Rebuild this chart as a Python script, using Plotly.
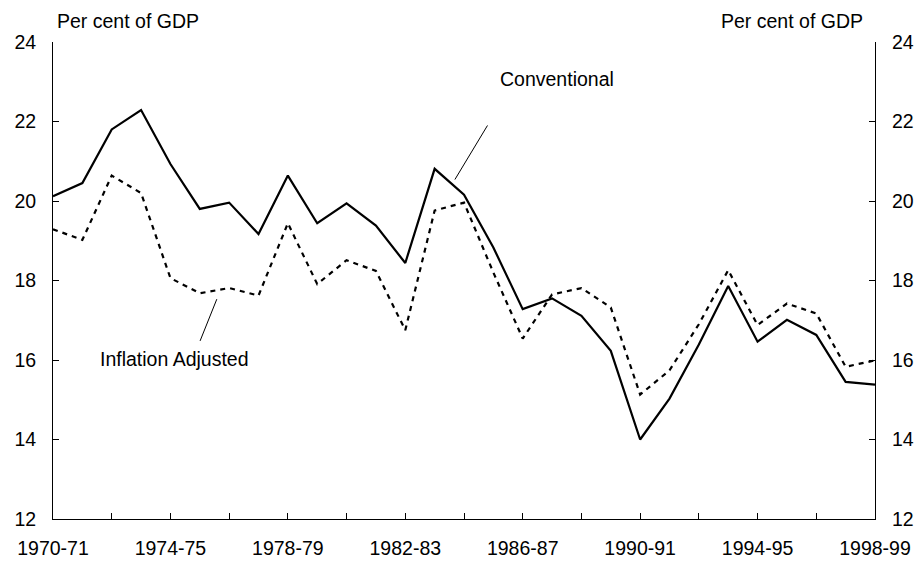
import plotly.graph_objects as go

categories = [f"{y}-{str(y + 1)[-2:]}" for y in range(1970, 1999)]

conventional = [20.12, 20.45, 21.80, 22.29, 20.93, 19.80, 19.96, 19.17, 20.64, 19.44,
                19.94, 19.38, 18.44, 20.81, 20.16, 18.83, 17.28, 17.55, 17.11, 16.23,
                14.00, 15.03, 16.39, 17.86, 16.46, 17.01, 16.63, 15.45, 15.38]

inflation_adjusted = [19.29, 19.02, 20.64, 20.20, 18.06, 17.68, 17.81, 17.62, 19.44, 17.91,
                      18.51, 18.24, 16.75, 19.76, 19.96, 18.20, 16.54, 17.65, 17.81, 17.32,
                      15.13, 15.74, 16.90, 18.26, 16.88, 17.42, 17.17, 15.83, 15.99]

y_ticks = [12, 14, 16, 18, 20, 22, 24]
tick_vals = categories[::2]
tick_text = [c if i % 2 == 0 else "" for i, c in enumerate(tick_vals)]

FONT = "Liberation Sans, Arial, sans-serif"
FS = 19.5

fig = go.Figure()
fig.add_trace(go.Scatter(x=categories, y=inflation_adjusted, mode="lines",
                         line=dict(color="black", width=2.2, dash="5px,5px"),
                         name="Inflation Adjusted", showlegend=False))
fig.add_trace(go.Scatter(x=categories, y=conventional, mode="lines",
                         line=dict(color="black", width=2.2),
                         name="Conventional", showlegend=False))
# invisible trace for the right-hand axis
fig.add_trace(go.Scatter(x=categories, y=conventional, mode="lines", yaxis="y2",
                         line=dict(color="rgba(0,0,0,0)", width=0), hoverinfo="skip",
                         showlegend=False))

axis_common = dict(range=[12, 24], tickvals=y_ticks, ticks="inside", ticklen=6,
                   tickcolor="black", showline=True, linecolor="black", linewidth=1,
                   showgrid=False, zeroline=False, ticklabelstandoff=12, automargin=False,
                   tickfont=dict(family=FONT, size=FS, color="black"))

fig.update_layout(
    width=918, height=561,
    margin=dict(l=53, r=43, t=42, b=42),
    paper_bgcolor="white", plot_bgcolor="white",
    font=dict(family=FONT, size=FS, color="black"),
    xaxis=dict(type="category", range=[0, 28], tickvals=tick_vals, ticktext=tick_text,
               ticks="inside", ticklen=6, tickcolor="black", showline=True,
               linecolor="black", linewidth=1, showgrid=False, zeroline=False,
               ticklabelstandoff=12, automargin=False,
               tickfont=dict(family=FONT, size=FS, color="black")),
    yaxis=dict(side="left", **axis_common),
    yaxis2=dict(side="right", overlaying="y", anchor="x", **axis_common),
    annotations=[
        dict(text="Per cent of GDP", xref="paper", yref="paper", x=0.003, y=1.045,
             xanchor="left", yanchor="middle", showarrow=False,
             font=dict(family=FONT, size=FS)),
        dict(text="Per cent of GDP", xref="paper", yref="paper", x=0.988, y=1.045,
             xanchor="right", yanchor="middle", showarrow=False,
             font=dict(family=FONT, size=FS)),
        dict(text="Conventional", xref="x", yref="y", x=17.16, y=23.06,
             xanchor="center", yanchor="middle", showarrow=False,
             font=dict(family=FONT, size=FS)),
        dict(text="Inflation Adjusted", xref="x", yref="y", x=4.15, y=16.02,
             xanchor="center", yanchor="middle", showarrow=False,
             font=dict(family=FONT, size=FS)),
    ],
    shapes=[
        dict(type="line", xref="x", yref="y", x0=14.80, y0=21.90, x1=13.69, y1=20.54,
             line=dict(color="black", width=1)),
        dict(type="line", xref="x", yref="y", x0=5.58, y0=17.53, x1=5.01, y1=16.48,
             line=dict(color="black", width=1)),
    ],
)

fig.write_html("out.html", config={"displayModeBar": False, "staticPlot": True})

# remove the browser's default page margin so the figure fills the window exactly
with open("out.html", "r", encoding="utf-8") as f:
    html = f.read()
html = html.replace("<head>", "<head><style>html,body{margin:0;padding:0;overflow:hidden;}</style>", 1)
with open("out.html", "w", encoding="utf-8") as f:
    f.write(html)
